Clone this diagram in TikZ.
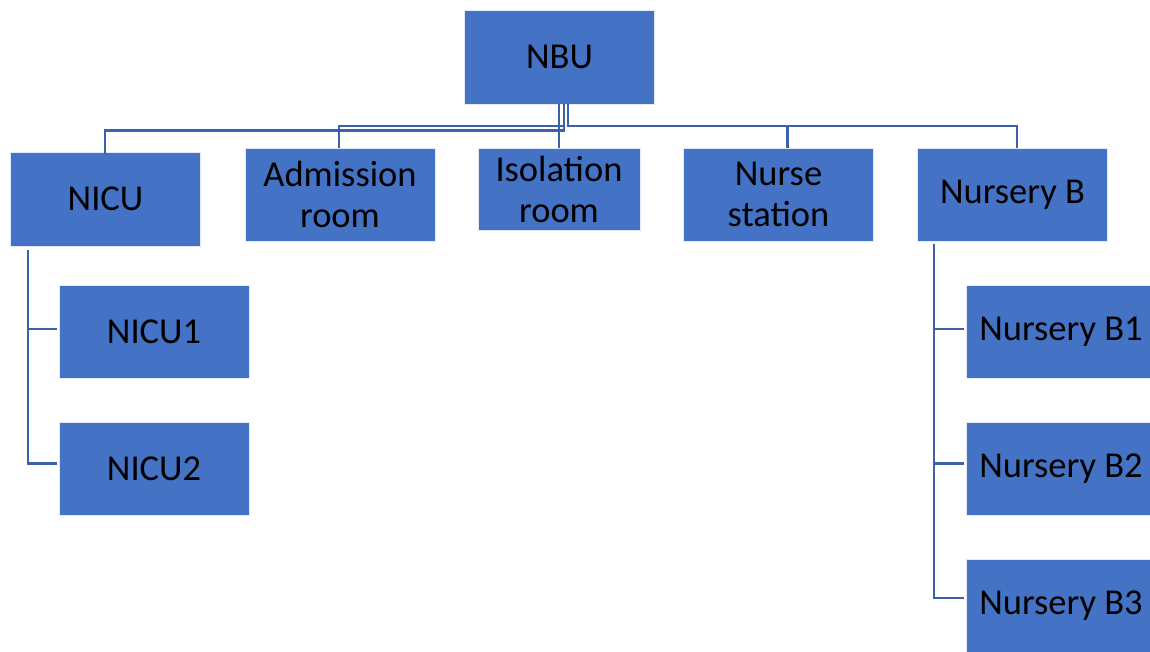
\documentclass[tikz,border=0pt]{standalone}
\usepackage{fontspec}
\setmainfont{Carlito}
\definecolor{boxblue}{RGB}{68,114,196}
\definecolor{lineblue}{RGB}{60,97,170}
\tikzset{
  box/.style={rectangle, fill=boxblue, draw=white!85!boxblue, line width=0.8pt,
    minimum width=190pt, minimum height=93pt, inner sep=2pt, align=center,
    text=black, font=\fontsize{36.5}{41}\selectfont},
  conn/.style={draw=lineblue, line width=2.3pt}
}
\begin{document}
\begin{tikzpicture}[x=1pt,y=-1pt]
\useasboundingbox (0,0) rectangle (1150,651);
\node[box, minimum height=94pt] (nbu) at (559.5,57) {NBU};
\node[box, minimum height=94pt] (nicu) at (105.5,199) {NICU};
\node[box] (adm) at (340,194.5) {Admission\\room};
\node[box, minimum width=162pt, minimum height=82pt] (iso) at (559,189) {Isolation\\room};
\node[box] (nurse) at (778.5,194.5) {Nurse\\station};
\node[box] (nb) at (1012.5,194.5) {Nursery B};
\node[box] (n1) at (154,331.5) {NICU1};
\node[box] (n2) at (154,468.5) {NICU2};
\node[box] (b1) at (1061,331.5) {Nursery B1};
\node[box] (b2) at (1061,468.5) {Nursery B2};
\node[box] (b3) at (1061,605.5) {Nursery B3};
% top connectors
\draw[conn] ([xshift=-0.5pt]nbu.south) -- ([xshift=-0.5pt]nbu.south |- iso.north);
\draw[conn] ([xshift=4.5pt]nbu.south) -- ++(0pt,-26pt) -| ([xshift=-0.5pt,yshift=-3pt]nicu.north);
\draw[conn] ([xshift=4.5pt]nbu.south) -- ++(0pt,-21.5pt) -| ([xshift=-1pt]adm.north);
\draw[conn] ([xshift=8.5pt]nbu.south) -- ++(0pt,-21.5pt) -| ([xshift=9pt]nurse.north);
\draw[conn] ([xshift=8.5pt]nbu.south) -- ++(0pt,-21.5pt) -| ([xshift=4.5pt]nb.north);
% NICU children
\draw[conn] ([xshift=18pt,yshift=-4pt]nicu.south west) |- ([xshift=-2pt,yshift=2.5pt]n1.west);
\draw[conn] ([xshift=18pt,yshift=-4pt]nicu.south west) |- ([xshift=-2pt,yshift=5pt]n2.west);
% Nursery B children
\draw[conn] ([xshift=17pt,yshift=-3pt]nb.south west) |- ([xshift=-2pt,yshift=2.5pt]b1.west);
\draw[conn] ([xshift=17pt,yshift=-3pt]nb.south west) |- ([xshift=-2pt,yshift=5pt]b2.west);
\draw[conn] ([xshift=17pt,yshift=-3pt]nb.south west) |- ([xshift=-2pt,yshift=7.5pt]b3.west);
\end{tikzpicture}
\end{document}
